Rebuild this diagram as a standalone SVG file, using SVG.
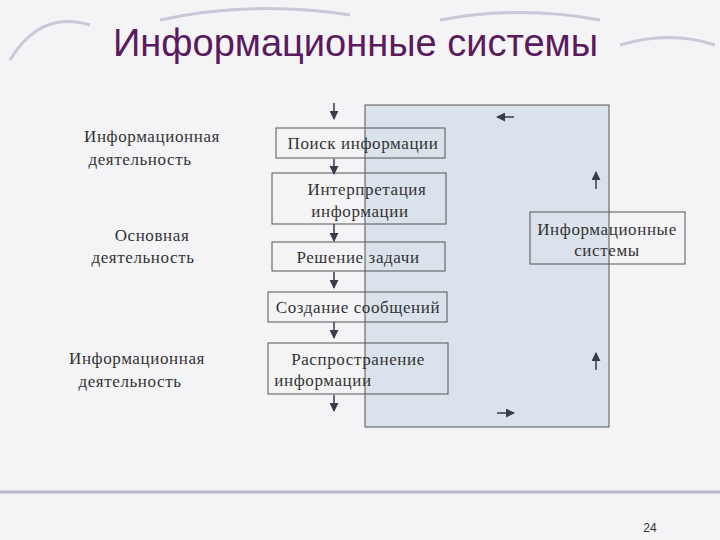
<svg xmlns="http://www.w3.org/2000/svg" width="720" height="540" viewBox="0 0 720 540">
<defs>
<marker id="ah" viewBox="0 0 10 10" refX="9" refY="5" markerWidth="6" markerHeight="6" orient="auto"><path d="M0,0 L10,5 L0,10 Z" fill="#3a3a4a"/></marker>
<style>
.t{font-family:"Liberation Serif",serif;font-size:17px;letter-spacing:0.6px;fill:#333;text-anchor:middle}
.b{fill:none;stroke:#555;stroke-width:1}
.a{stroke:#3a3a4a;stroke-width:1.5;marker-end:url(#ah)}
</style>
</defs>
<rect width="720" height="540" fill="#f4f4f6"/>
<g fill="none" stroke="#c8c8d8" stroke-width="3">
<path d="M10,60 Q40,10 90,25"/><path d="M160,20 Q250,0 350,15"/><path d="M440,20 Q520,5 600,20"/><path d="M620,45 Q670,30 715,45"/>
<path d="M0,492 L720,492" stroke="#b8b8c8" stroke-width="3"/>
</g>
<text x="113" y="56" font-family="Liberation Sans,sans-serif" font-size="38" fill="#5a1a5e">Информационные системы</text>
<g id="bigpanel"><rect x="365" y="105" width="244" height="322" fill="#d3dde8" fill-opacity="0.8" stroke="#555"/></g>
<g id="left1"><text class="t" x="152" y="142">Информационная</text><text class="t" x="140" y="165">деятельность</text></g>
<g id="left2"><text class="t" x="152" y="241">Основная</text><text class="t" x="143" y="263">деятельность</text></g>
<g id="left3"><text class="t" x="137" y="364">Информационная</text><text class="t" x="130" y="387">деятельность</text></g>
<g id="n1"><rect class="b" x="276" y="128" width="169" height="30"/><text class="t" x="363" y="149">Поиск информации</text></g>
<g id="n2"><rect class="b" x="272" y="173" width="174" height="51"/><text class="t" x="367" y="195">Интерпретация</text><text class="t" x="360" y="217">информации</text></g>
<g id="n3"><rect class="b" x="272" y="242" width="173" height="29"/><text class="t" x="358" y="263">Решение задачи</text></g>
<g id="n4"><rect class="b" x="268" y="292" width="179" height="30"/><text class="t" x="358" y="313">Создание сообщений</text></g>
<g id="n5"><rect class="b" x="268" y="343" width="180" height="51"/><text class="t" x="358" y="365">Распространение</text><text class="t" x="323" y="386">информации</text></g>
<g id="n6"><rect class="b" x="530" y="212" width="155" height="52"/><text class="t" x="607" y="235">Информационные</text><text class="t" x="607" y="256">системы</text></g>
<g id="connectors">
<line class="a" x1="334" y1="103" x2="334" y2="119"/>
<line class="a" x1="334" y1="159" x2="334" y2="174"/>
<line class="a" x1="334" y1="224" x2="334" y2="241"/>
<line class="a" x1="334" y1="272" x2="334" y2="288"/>
<line class="a" x1="334" y1="322" x2="334" y2="338"/>
<line class="a" x1="334" y1="395" x2="334" y2="411"/>
<line class="a" x1="514" y1="117" x2="497" y2="117"/>
<line class="a" x1="596" y1="189" x2="596" y2="172"/>
<line class="a" x1="596" y1="370" x2="596" y2="353"/>
<line class="a" x1="497" y1="413" x2="514" y2="413"/>
</g>
<text x="650" y="532" font-family="Liberation Sans,sans-serif" font-size="12" fill="#333" text-anchor="middle">24</text>
</svg>
